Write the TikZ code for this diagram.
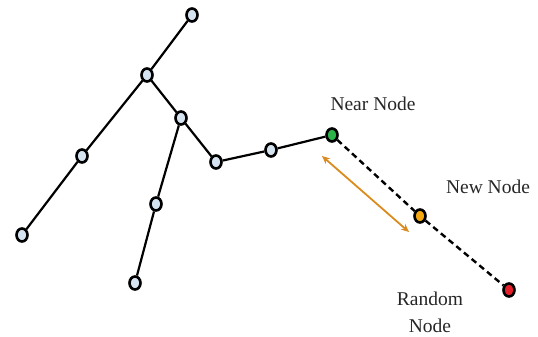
\documentclass[tikz,border=0pt]{standalone}
\usepackage{fontspec}
\setmainfont{Liberation Serif}
\usetikzlibrary{arrows.meta,shapes.geometric}
\begin{document}
\begin{tikzpicture}[x=1pt,y=-1pt,
  vtx/.style={ellipse,draw=black,line width=2.6pt,minimum width=11pt,minimum height=13pt,inner sep=0pt,fill=#1},
  vtx/.default={blue!12!white},
  edge/.style={line width=2.2pt,black},
  dashedge/.style={line width=2.4pt,black,dash pattern=on 6pt off 4pt},
  lbl/.style={font=\fontsize{19.5}{27}\selectfont,align=center,text=black!85}]
\useasboundingbox (0,0) rectangle (538,337);
\definecolor{nodeblue}{HTML}{D5E3F0}
\definecolor{arrorange}{HTML}{D98B1F}
\definecolor{ngreen}{HTML}{2DB34A}
\definecolor{nyellow}{HTML}{F5A80F}
\definecolor{nred}{HTML}{E5202A}
\node[vtx=nodeblue] (top) at (192,15) {};
\node[vtx=nodeblue] (hub) at (147,75) {};
\node[vtx=nodeblue] (lm) at (82,156) {};
\node[vtx=nodeblue] (lb) at (22,235) {};
\node[vtx=nodeblue] (br) at (181,118) {};
\node[vtx=nodeblue] (dm) at (156,204) {};
\node[vtx=nodeblue] (db) at (135,283) {};
\node[vtx=nodeblue] (r1) at (216,162) {};
\node[vtx=nodeblue] (r2) at (271,150) {};
\node[vtx=ngreen] (near) at (332,135) {};
\node[vtx=nyellow] (new) at (420,216) {};
\node[vtx=nred] (rand) at (509,290) {};
\draw[edge] (top) -- (hub);
\draw[edge] (hub) -- (lm);
\draw[edge] (lm) -- (lb);
\draw[edge] (hub) -- (br);
\draw[edge] (br) -- (dm);
\draw[edge] (dm) -- (db);
\draw[edge] (br) -- (r1);
\draw[edge] (r1) -- (r2);
\draw[edge] (r2) -- (near);
\draw[dashedge] (near) -- (new);
\draw[dashedge] (new) -- (rand);
\coordinate (a1) at (322,156);
\coordinate (a2) at (409,232);
\draw[arrorange,line width=1.8pt,{Stealth[length=8pt,width=7pt]}-{Stealth[length=8pt,width=7pt]}] (a1) -- (a2);
\node[lbl] (nearl) at (373,104) {Near Node};
\node[lbl] (newl) at (488,187) {New Node};
\node[lbl] (randl) at (430,312) {Random\\Node};
\end{tikzpicture}
\end{document}
